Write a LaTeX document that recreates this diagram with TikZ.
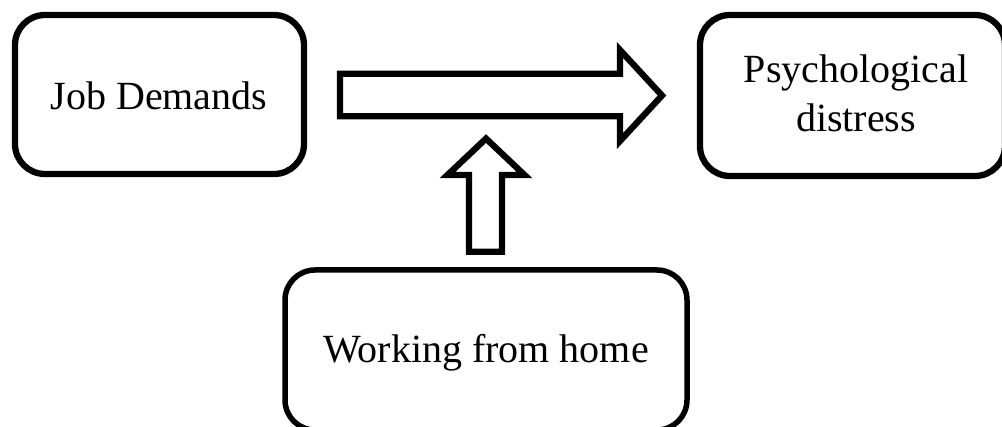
\documentclass[tikz,border=0pt]{standalone}
\usepackage{fontspec}
\setmainfont{Liberation Serif}
\begin{document}
\begin{tikzpicture}[x=1pt,y=-1pt,
  box/.style={draw=black,line width=6.3pt,rounded corners=30pt,rectangle,inner sep=0pt},
  blockarrow/.style={draw=black,fill=white,line width=6.3pt,line join=miter,miter limit=10},
  lbl/.style={anchor=base,inner sep=0pt,font=\fontsize{40}{48}\selectfont}]
\useasboundingbox (0,0) rectangle (1002,427);
\clip (0,0) rectangle (1002,427);
% boxes
\node[box,minimum width=289pt,minimum height=159pt] (jd) at (159.5,94.5) {};
\node[box,minimum width=305pt,minimum height=161pt] (pd) at (852.5,95.5) {};
\node[box,line width=5.5pt,minimum width=402pt,minimum height=160pt] (wfh) at (486,350) {};
% labels
\node[lbl] (jdt) at (159,110) {Job Demands};
\node[lbl] (pdt1) at (856,83) {Psychological};
\node[lbl] (pdt2) at (856,132) {distress};
\node[lbl] (wfht) at (486,363) {Working from home};
% horizontal block arrow
\draw[blockarrow] (340,73.7) -- (620,73.7) -- (620,50) -- (662,95.5) -- (620,141) -- (620,116.3) -- (340,116.3) -- cycle;
% vertical block arrow
\draw[blockarrow] (469,251.7) -- (469,175) -- (447.5,175) -- (486,138.6) -- (524.5,175) -- (502,175) -- (502,251.7) -- cycle;
\end{tikzpicture}
\end{document}
